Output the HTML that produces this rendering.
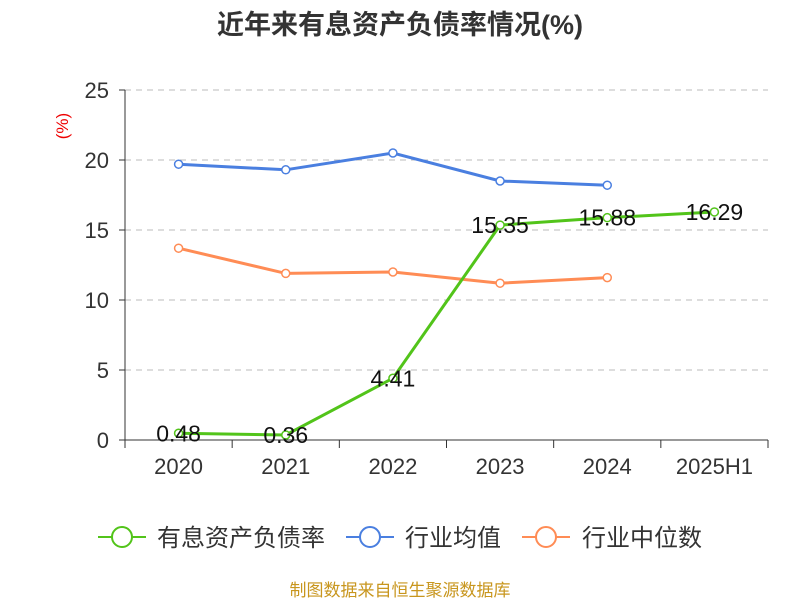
<!DOCTYPE html>
<html><head><meta charset="utf-8"><style>
body{margin:0;background:#fff;}
svg text{font-family:"Liberation Sans","Noto Sans CJK SC",sans-serif;}
</style></head><body>
<svg id="chart" width="800" height="600" xmlns="http://www.w3.org/2000/svg">
<text x="400" y="34" text-anchor="middle" font-size="27" font-weight="bold" fill="#333">近年来有息资产负债率情况(%)</text>
<text x="68" y="126" font-size="17" fill="#e00" transform="rotate(-90 68 126)" text-anchor="middle">(%)</text>
<g id="grid"></g><g id="axes"></g><g id="series"></g>
<g>
 <g><line x1="98" y1="537" x2="146" y2="537" stroke="#52c41a" stroke-width="2"/><circle cx="122" cy="537" r="10" fill="#fff" stroke="#52c41a" stroke-width="2"/><text x="157" y="546" font-size="24" fill="#333">有息资产负债率</text></g>
 <g><line x1="346" y1="537" x2="394" y2="537" stroke="#4a7fe0" stroke-width="2"/><circle cx="370" cy="537" r="10" fill="#fff" stroke="#4a7fe0" stroke-width="2"/><text x="405" y="546" font-size="24" fill="#333">行业均值</text></g>
 <g><line x1="522" y1="537" x2="570" y2="537" stroke="#ff8c55" stroke-width="2"/><circle cx="546" cy="537" r="10" fill="#fff" stroke="#ff8c55" stroke-width="2"/><text x="582" y="546" font-size="24" fill="#333">行业中位数</text></g>
</g>
<text x="400" y="596" text-anchor="middle" font-size="17" fill="#c8961e">制图数据来自恒生聚源数据库</text>
</svg>
<script>
const categories=["2020","2021","2022","2023","2024","2025H1"];
const debtRatio=[0.48,0.36,4.41,15.35,15.88,16.29];
const industryAvg=[19.7,19.3,20.5,18.5,18.2];
const industryMedian=[13.7,11.9,12.0,11.2,11.6];
const yTicks=[0,5,10,15,20,25];
const NS="http://www.w3.org/2000/svg";
const x0=125,x1=768,yb=440,yt=90,ymax=25;
const bw=(x1-x0)/categories.length;
const xs=i=>x0+bw*(i+0.5);
const ys=v=>yb-(v/ymax)*(yb-yt);
function mk(tag,attrs,parent){const e=document.createElementNS(NS,tag);for(const k in attrs)e.setAttribute(k,attrs[k]);parent.appendChild(e);return e;}
const grid=document.getElementById('grid'),axes=document.getElementById('axes'),ser=document.getElementById('series');
yTicks.forEach(t=>{
 if(t>0){const g=mk('line',{x1:x0,x2:x1,y1:ys(t),y2:ys(t),stroke:'#bbb','stroke-dasharray':'6,5'},grid);
 
 }
 const tk=mk('line',{x1:x0-6,x2:x0,y1:ys(t),y2:ys(t),stroke:'#333'},axes);
 
 
 const tx=mk('text',{x:x0-16,y:ys(t)+8,'text-anchor':'end','font-size':22,fill:'#333'},axes);tx.textContent=t;
 
 
});
const ya=mk('line',{x1:x0,x2:x0,y1:yt,y2:yb,stroke:'#333'},axes);


const xa=mk('line',{x1:x0,x2:x1,y1:yb,y2:yb,stroke:'#333'},axes);


for(let i=0;i<=categories.length;i++){const t=mk('line',{x1:x0+bw*i,x2:x0+bw*i,y1:yb,y2:yb+8,stroke:'#333'},axes);
 
 }
categories.forEach((c,i)=>{const t=mk('text',{x:xs(i),y:474,'text-anchor':'middle','font-size':22,fill:'#333'},axes);t.textContent=c;
 
 });
function series(vals,color,name,labels){
 const pl=mk('polyline',{points:vals.map((v,i)=>xs(i)+','+ys(v)).join(' '),fill:'none',stroke:color,'stroke-width':3},ser);
 
 
 vals.forEach((v,i)=>{const c=mk('circle',{cx:xs(i),cy:ys(v),r:4,fill:'#fff',stroke:color,'stroke-width':1.5},ser);
  
  
  if(labels){const t=mk('text',{x:xs(i),y:ys(v)+8,'text-anchor':'middle','font-size':23,fill:'#111'},ser);t.textContent=v.toFixed(2);
   
   }
 });
}
series(industryAvg,'#4a7fe0','industry-avg',false);
series(industryMedian,'#ff8c55','industry-median',false);
series(debtRatio,'#52c41a','debt-ratio',true);
</script>
</body></html>
